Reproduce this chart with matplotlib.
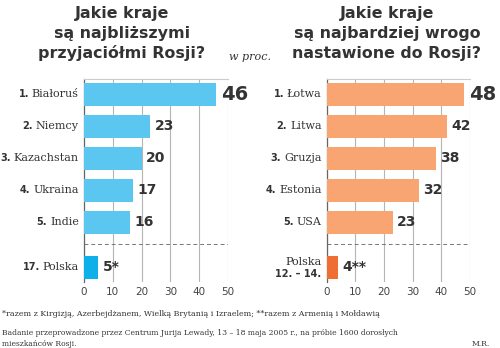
import matplotlib.pyplot as plt

# odpowiedzi w procentach
przyjaciele = ['Białoruś', 'Niemcy', 'Kazachstan', 'Ukraina', 'Indie', 'Polska']
przyjaciele_nr = ['1.', '2.', '3.', '4.', '5.', '17.']
przyjaciele_proc = [46, 23, 20, 17, 16, 5]
przyjaciele_opis = ['46', '23', '20', '17', '16', '5*']

wrogowie = ['Łotwa', 'Litwa', 'Gruzja', 'Estonia', 'USA', 'Polska']
wrogowie_nr = ['1.', '2.', '3.', '4.', '5.', '12. – 14.']
wrogowie_proc = [48, 42, 38, 32, 23, 4]
wrogowie_opis = ['48', '42', '38', '32', '23', '4**']

ticks = [0, 10, 20, 30, 40, 50]
pozycje = [0, 1, 2, 3, 4, 5.4]

SANS = 'DejaVu Sans'
SERIF = 'DejaVu Serif'
DARK = '#333333'

fig = plt.figure(figsize=(5, 3.48), dpi=100)


def panel(rect, nazwy, nr, wartosci, opisy, kolor, kolor_pl, polska_dwie_linie):
    ax = fig.add_axes(rect)
    kolory = [kolor] * 5 + [kolor_pl]
    ax.barh(pozycje, wartosci, height=0.72, color=kolory, zorder=3)
    ax.set_xlim(0, 50)
    ax.set_ylim(5.86, -0.48)
    ax.set_xticks(ticks)
    ax.set_yticks([])
    ax.tick_params(axis='x', length=0, pad=4, labelsize=7.5, labelcolor='#444444')
    for lab in ax.get_xticklabels():
        lab.set_family(SANS)
    ax.grid(axis='x', color='#b5b5b5', lw=0.8, zorder=0)
    for s in ['right', 'bottom']:
        ax.spines[s].set_visible(False)
    ax.spines['top'].set_color('#cccccc')
    ax.spines['top'].set_linewidth(0.8)
    ax.spines['left'].set_color('#666666')
    ax.spines['left'].set_linewidth(0.9)
    ax.axhline(4.67, color='#777777', lw=0.7, ls=(0, (4, 3)), zorder=2)

    naj = max(wartosci)
    for y, v, t in zip(pozycje, wartosci, opisy):
        size = 14 if v == naj else 10
        ax.text(v + 1.6, y, t, ha='left', va='center', fontsize=size,
                fontweight='bold', family=SANS, color=DARK, zorder=4)

    for i, (y, n, k) in enumerate(zip(pozycje, nazwy, nr)):
        if i == 5 and polska_dwie_linie:
            ax.text(-1.8, y - 0.02, n, ha='right', va='bottom', fontsize=8,
                    family=SERIF, color=DARK)
            ax.text(-1.8, y + 0.05, k, ha='right', va='top', fontsize=7,
                    fontweight='bold', family=SANS, color=DARK)
            continue
        t = ax.text(-1.8, y, n, ha='right', va='center', fontsize=8,
                    family=SERIF, color=DARK)
        ax.annotate(k, xy=(0, 0.5), xycoords=t, xytext=(-2, 0),
                    textcoords='offset points', ha='right', va='center',
                    fontsize=7, fontweight='bold', family=SANS, color=DARK)
    return ax


panel([0.168, 0.19, 0.288, 0.583], przyjaciele, przyjaciele_nr,
      przyjaciele_proc, przyjaciele_opis, '#5bc6ef', '#0fb0ea', False)
panel([0.6534, 0.19, 0.287, 0.583], wrogowie, wrogowie_nr,
      wrogowie_proc, wrogowie_opis, '#f8a571', '#ee6e33', True)

# tytuly
tytul_l = ['Jakie kraje', 'są najbliższymi', 'przyjaciółmi Rosji?']
tytul_p = ['Jakie kraje', 'są najbardziej wrogo', 'nastawione do Rosji?']
for i, (a, b) in enumerate(zip(tytul_l, tytul_p)):
    yb = 1 - (18 + 20 * i) / 348
    fig.text(122 / 500, yb, a, ha='center', va='baseline', fontsize=11.4,
             fontweight='bold', family=SANS, color=DARK)
    fig.text(387 / 500, yb, b, ha='center', va='baseline', fontsize=11.4,
             fontweight='bold', family=SANS, color=DARK)

fig.text(250 / 500, 1 - 60 / 348, 'w proc.', ha='center', va='baseline',
         fontsize=8, style='italic', family=SERIF, color=DARK)

# przypisy
fig.text(0.004, 1 - 316 / 348,
         '*razem z Kirgizją, Azerbejdżanem, Wielką Brytanią i Izraelem; '
         '**razem z Armenią i Mołdawią',
         ha='left', va='baseline', fontsize=5.7, family=SERIF, color=DARK)
fig.text(0.004, 1 - 335 / 348,
         'Badanie przeprowadzone przez Centrum Jurija Lewady, 13 – 18 maja 2005 r., '
         'na próbie 1600 dorosłych',
         ha='left', va='baseline', fontsize=5.5, family=SERIF, color=DARK)
fig.text(0.004, 1 - 345.5 / 348, 'mieszkańców Rosji.',
         ha='left', va='baseline', fontsize=5.5, family=SERIF, color=DARK)
fig.text(490 / 500, 1 - 345.5 / 348, 'M.R.', ha='right', va='baseline',
         fontsize=5.5, family=SERIF, color=DARK)

fig.savefig('out.png', dpi=100)
